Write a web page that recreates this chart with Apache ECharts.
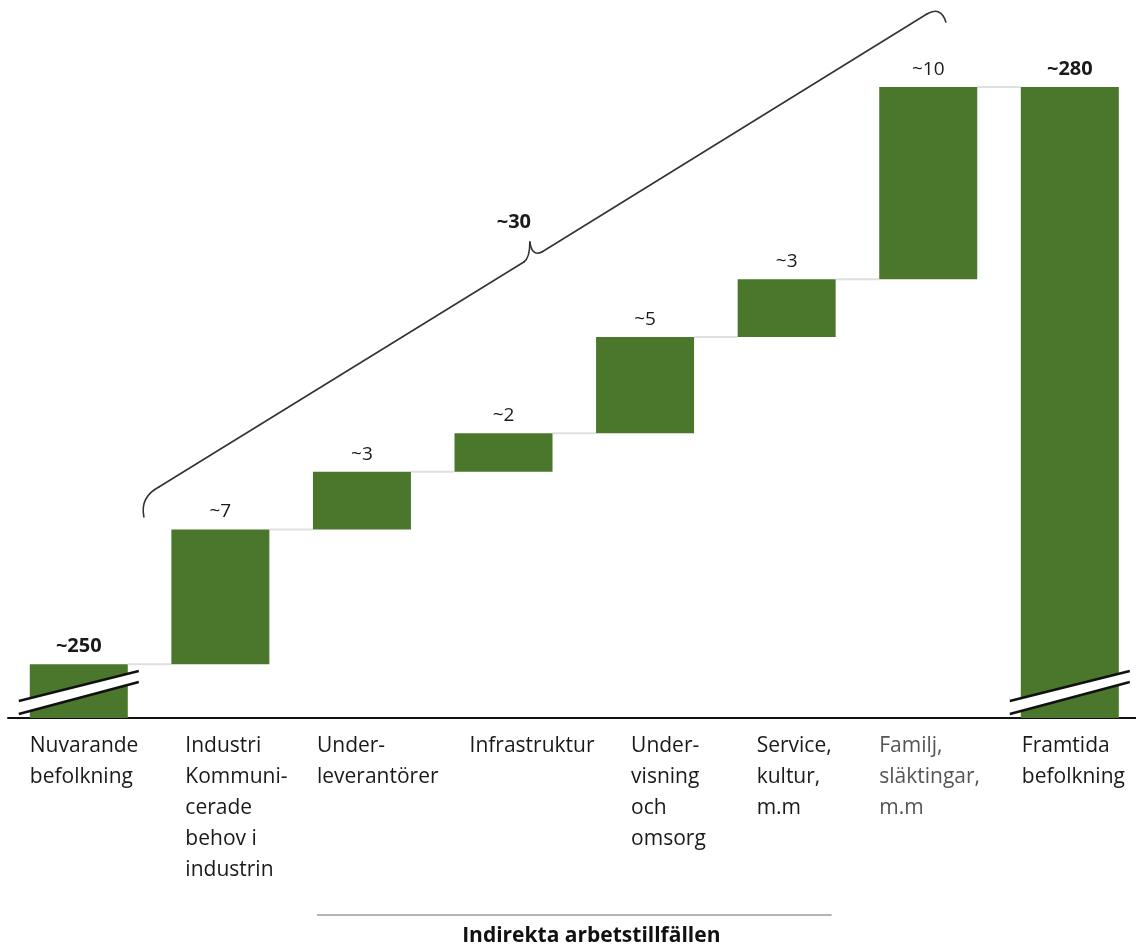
<!DOCTYPE html>
<html><head><meta charset="utf-8">
<script src="https://cdn.jsdelivr.net/npm/echarts@6/dist/echarts.min.js"></script>
<style>html,body{margin:0;padding:0;background:#fff}#c{width:1136px;height:944px}</style>
</head><body><div id="c"></div>
<script>
// ---- data ----
const categories = [
  ['Nuvarande', 'befolkning'],
  ['Industri', 'Kommuni-', 'cerade', 'behov i', 'industrin'],
  ['Under-', 'leverantörer'],
  ['Infrastruktur'],
  ['Under-', 'visning', 'och', 'omsorg'],
  ['Service,', 'kultur,', 'm.m'],
  ['Familj,', 'släktingar,', 'm.m'],
  ['Framtida', 'befolkning']
];
const startValue = 250;
const increments = [7, 3, 2, 5, 3, 10];
const endValue = 280;
const valueLabels = ['~250', '~7', '~3', '~2', '~5', '~3', '~10', '~280'];
const totalLabel = '~30';
const groupLabel = 'Indirekta arbetstillfällen';

// ---- derived ----
const barValues = [startValue, ...increments, endValue];
const levels = [startValue];
let run = startValue;
increments.forEach(v => { run += v; levels.push(run); });
levels.push(endValue);
const last = barValues.length - 1;
const baseValues = barValues.map((v, i) => (i === 0 || i === last) ? 0 : levels[i] - v);
const connectors = levels.slice(0, last).map((lv, i) => [i, lv]);

// ---- style / layout ----
const FONT = '"Open Sans", "Noto Sans", sans-serif';
const GREEN = '#4a772b';
const Y_MIN = 247.2, Y_MAX = 282;
const BAR_W = 98;
const labelShift = [-49, -35, -45, -34, -14, -30, -49, -48];
const labelColor = ['#1a1a1a', '#1a1a1a', '#1a1a1a', '#1a1a1a', '#1a1a1a', '#1a1a1a', '#555555', '#1a1a1a'];

const chart = echarts.init(document.getElementById('c'), null, {renderer: 'canvas'});

chart.setOption({
  animation: false,
  grid: {left: 8, width: 1132.6, top: 48.5, bottom: 226, containLabel: false, outerBoundsMode: 'none'},
  xAxis: {
    type: 'category',
    data: categories.map(c => c.join('\n')),
    axisTick: {show: false},
    axisLabel: {show: false},
    axisLine: {onZero: false, lineStyle: {color: '#111', width: 2}}
  },
  yAxis: {type: 'value', min: Y_MIN, max: Y_MAX, show: false, splitLine: {show: false}},
  series: [
    {
      type: 'bar', stack: 'w', barWidth: BAR_W, silent: true,
      data: baseValues, itemStyle: {color: 'transparent'}
    },
    {
      type: 'bar', stack: 'w', barWidth: BAR_W,
      data: barValues.map((v, i) => {
        const strong = (i === 0 || i === last);
        return {value: v, label: {fontWeight: strong ? 'bold' : 'normal', fontSize: strong ? 20 : 19}};
      }),
      itemStyle: {color: GREEN},
      label: {
        show: true, position: 'top', distance: 8,
        fontFamily: FONT, fontSize: 19, color: '#1a1a1a',
        formatter: p => valueLabels[p.dataIndex]
      }
    },
    {
      type: 'custom', z: 1, clip: false,
      encode: {x: 0, y: 1},
      data: connectors,
      renderItem: (params, api) => {
        const i = api.value(0), lv = api.value(1);
        const p = api.coord([i, lv]);
        const q = api.coord([i + 1, lv]);
        return {
          type: 'line',
          shape: {x1: p[0] + BAR_W / 2, y1: p[1], x2: q[0] - BAR_W / 2, y2: q[1]},
          style: {stroke: '#e0e0e0', lineWidth: 2}
        };
      }
    },
    {
      type: 'custom', z: 5, clip: false,
      encode: {x: 0, y: 1},
      data: [[0, Y_MIN], [last, Y_MIN]],
      renderItem: (params, api) => {
        const p = api.coord([api.value(0), api.value(1)]);
        const cx = p[0], y = p[1];
        const a = [cx - 60, y - 17], b = [cx + 60, y - 47], c = [cx + 60, y - 36], d = [cx - 60, y - 4];
        return {
          type: 'group',
          children: [
            {type: 'polygon', shape: {points: [a, b, c, d]}, style: {fill: '#fff'}},
            {type: 'line', shape: {x1: a[0], y1: a[1], x2: b[0], y2: b[1]}, style: {stroke: '#111', lineWidth: 2.5}},
            {type: 'line', shape: {x1: d[0], y1: d[1], x2: c[0], y2: c[1]}, style: {stroke: '#111', lineWidth: 2.5}}
          ]
        };
      }
    }
  ]
});

// ---- annotations positioned from the chart's own scales ----
const px = (i, v) => chart.convertToPixel({gridIndex: 0}, [i, v]);
const axisY = px(0, Y_MIN)[1];
const graphics = [];

categories.forEach((lines, i) => {
  const x = px(i, Y_MIN)[0] + labelShift[i];
  graphics.push({
    type: 'text', x: x, y: axisY + 12.5, silent: true,
    style: {
      text: lines.join('\n'), fontFamily: FONT, fontSize: 21, lineHeight: 31,
      fill: labelColor[i], textAlign: 'left', align: 'left',
      textVerticalAlign: 'top', verticalAlign: 'top'
    }
  });
});

// brace over the indirect jobs
const anchor = px(1, levels[1]);
const S = [anchor[0] - 76.5, anchor[1] - 12.5];
const pt = (dx, dy) => [S[0] + dx, S[1] + dy];
const braceStyle = {fill: null, stroke: '#333', lineWidth: 1.6, lineCap: 'round'};
const quad = (p0, c, p1) => ({
  type: 'bezierCurve', silent: true,
  shape: {x1: p0[0], y1: p0[1], cpx1: c[0], cpy1: c[1], x2: p1[0], y2: p1[1]},
  style: braceStyle
});
const seg = (p0, p1) => ({
  type: 'line', silent: true,
  shape: {x1: p0[0], y1: p0[1], x2: p1[0], y2: p1[1]},
  style: braceStyle
});
graphics.push(quad(pt(0, 0), pt(-4, -20), pt(15, -30)));
graphics.push(seg(pt(15, -30), pt(380, -255)));
graphics.push(quad(pt(380, -255), pt(386, -259), pt(386, -275)));
graphics.push(quad(pt(386, -275), pt(388, -260), pt(398, -265)));
graphics.push(seg(pt(398, -265), pt(783, -503)));
graphics.push(quad(pt(783, -503), pt(797, -511), pt(802, -495)));

graphics.push({
  type: 'text', x: S[0] + 370, y: S[1] - 295, silent: true,
  style: {
    text: totalLabel, fontFamily: FONT, fontSize: 20, fontWeight: 'bold', fill: '#1a1a1a',
    textAlign: 'center', align: 'center', textVerticalAlign: 'middle', verticalAlign: 'middle'
  }
});

// group bracket below the labels (spans Under-leverantörer .. Service)
const gx1 = px(2, Y_MIN)[0] - 45;
const gx2 = px(5, Y_MIN)[0] + 45;
graphics.push({
  type: 'line', silent: true,
  shape: {x1: gx1, y1: axisY + 197, x2: gx2, y2: axisY + 197},
  style: {stroke: '#b5b5b5', lineWidth: 2}
});
graphics.push({
  type: 'text', x: (gx1 + gx2) / 2 + 17, y: axisY + 218, silent: true,
  style: {
    text: groupLabel, fontFamily: FONT, fontSize: 21, fontWeight: 'bold', fill: '#111',
    textAlign: 'center', align: 'center', textVerticalAlign: 'middle', verticalAlign: 'middle'
  }
});

chart.setOption({graphic: graphics});
</script>
</body></html>
